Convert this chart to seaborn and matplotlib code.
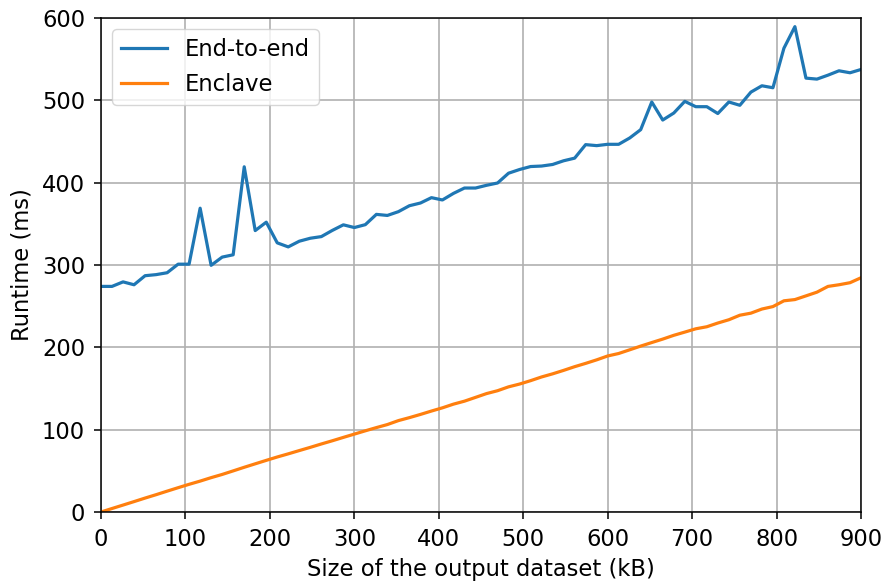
import matplotlib
matplotlib.use("Agg")
import matplotlib.pyplot as plt
import seaborn as sns
import pandas as pd

# Output dataset sizes (kB)
sizes_kb = [0.0, 13.0, 26.1, 39.1, 52.2, 65.2, 78.3, 91.3, 104.3, 117.4,
            130.4, 143.5, 156.5, 169.6, 182.6, 195.7, 208.7, 221.7, 234.8, 247.8,
            260.9, 273.9, 287.0, 300.0, 313.0, 326.1, 339.1, 352.2, 365.2, 378.3,
            391.3, 404.3, 417.4, 430.4, 443.5, 456.5, 469.6, 482.6, 495.7, 508.7,
            521.7, 534.8, 547.8, 560.9, 573.9, 587.0, 600.0, 613.0, 626.1, 639.1,
            652.2, 665.2, 678.3, 691.3, 704.3, 717.4, 730.4, 743.5, 756.5, 769.6,
            782.6, 795.7, 808.7, 821.7, 834.8, 847.8, 860.9, 873.9, 887.0, 900.0]

end_to_end_ms = [274, 274, 279.5, 276, 287, 288.3, 290.6, 301, 301, 369,
                 299.6, 309.6, 312.4, 419.3, 341.8, 352, 326.9, 322, 328.9, 332.5,
                 334.5, 342, 348.8, 345.5, 349, 361.5, 360.2, 364.8, 372, 375.3,
                 381.8, 379, 387, 393.5, 393.5, 396.8, 399.6, 411.5, 416, 419.6,
                 420.2, 422.1, 426.6, 429.8, 446.2, 445, 446.6, 446.6, 454.3, 464.4,
                 498, 476.1, 484.6, 498.8, 492.3, 492.3, 484, 498, 494, 510,
                 517.7, 515.3, 563.3, 589.5, 527, 525.8, 530.6, 535.9, 533.5, 537.5]

enclave_ms = [0, 4.2, 8.4, 12.6, 16.9, 21.0, 25.3, 29.5, 33.6, 37.5,
              41.7, 45.6, 49.9, 54.3, 58.5, 62.7, 66.8, 70.6, 74.6, 78.5,
              82.6, 86.5, 90.6, 94.6, 98.6, 102.5, 106.2, 111.0, 114.6, 118.5,
              122.6, 126.5, 131.0, 134.6, 139.2, 143.8, 147.3, 152.0, 155.4, 159.5,
              164.0, 167.8, 172.0, 176.5, 180.5, 184.8, 189.5, 192.5, 197.0, 201.5,
              205.8, 210.0, 214.6, 218.5, 222.5, 225.0, 229.5, 233.5, 239.0, 241.5,
              246.5, 249.5, 256.5, 258.0, 262.5, 267.0, 274.0, 276.0, 278.5, 284.5]

series_names = ["End-to-end", "Enclave"]

df = pd.DataFrame({
    "size": sizes_kb * 2,
    "runtime": end_to_end_ms + enclave_ms,
    "series": [series_names[0]] * len(sizes_kb) + [series_names[1]] * len(sizes_kb),
})

FS = 16.3
plt.rcParams["font.family"] = ["DejaVu Sans"]
plt.rcParams["font.size"] = FS

fig, ax = plt.subplots(figsize=(8.86, 5.87), dpi=100)
fig.subplots_adjust(left=0.114, right=0.9718, top=0.9693, bottom=0.1278)

sns.lineplot(data=df, x="size", y="runtime", hue="series",
             palette=["#1f77b4", "#ff7f0e"], linewidth=2.3, ax=ax)

ax.set_xlim(0, 900)
ax.set_ylim(0, 600)
ax.set_xticks(range(0, 901, 100))
ax.set_yticks(range(0, 601, 100))
ax.grid(True, color="#b0b0b0", linewidth=1.2)
ax.set_axisbelow(True)
ax.set_xlabel("Size of the output dataset (kB)", fontsize=FS, labelpad=5)
ax.set_ylabel("Runtime (ms)", fontsize=FS, labelpad=6)
ax.tick_params(labelsize=FS, width=1.1, length=5, pad=6.5)
for s in ax.spines.values():
    s.set_linewidth(1.1)
    s.set_color("black")

leg = ax.legend(loc="upper left", fontsize=FS, frameon=True, title=None)
for line in leg.get_lines():
    line.set_linewidth(2.3)

fig.savefig("out.png", dpi=100)
